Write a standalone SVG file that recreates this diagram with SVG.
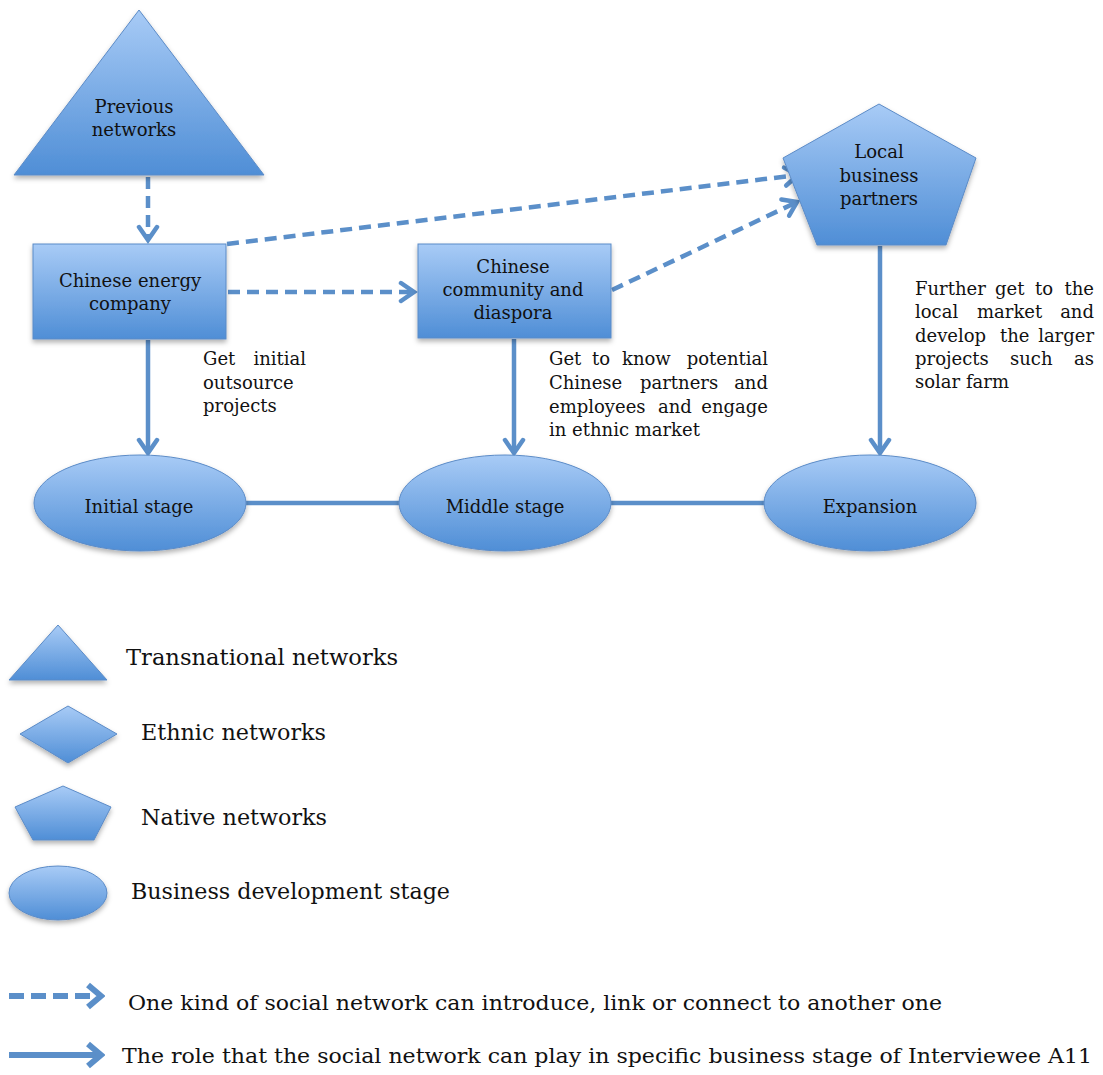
<svg xmlns="http://www.w3.org/2000/svg" width="1103" height="1075" viewBox="0 0 1103 1075">
<style>
  .shape { fill: url(#g); stroke: #5b8bc7; stroke-width: 1; filter: url(#sh); }
  .lbl { font-family: "DejaVu Serif", "Liberation Serif", serif; font-size: 18px; fill: #111; text-anchor: middle; }
  .txt { font-family: "DejaVu Serif", "Liberation Serif", serif; font-size: 18px; fill: #111; }
  .leg { font-family: "DejaVu Serif", "Liberation Serif", serif; font-size: 22.5px; fill: #111; }
  .leg2 { font-family: "DejaVu Serif", "Liberation Serif", serif; font-size: 20.5px; fill: #111; }
  .dash { fill: none; stroke: #5b8fc9; stroke-width: 4.5; stroke-dasharray: 12 7; marker-end: url(#ah); }
  .solid { fill: none; stroke: #5b8fc9; stroke-width: 4.5; marker-end: url(#ah); }
  .line { fill: none; stroke: #5b8fc9; stroke-width: 4.5; }
</style>
<defs>
  <linearGradient id="g" x1="0" y1="0" x2="0" y2="1">
    <stop offset="0" stop-color="#a8cbf6"/>
    <stop offset="1" stop-color="#4f8ed6"/>
  </linearGradient>
  <filter id="sh" x="-20%" y="-20%" width="140%" height="150%">
    <feDropShadow dx="0" dy="3" stdDeviation="2.5" flood-color="#000" flood-opacity="0.3"/>
  </filter>
  <marker id="ah" markerUnits="userSpaceOnUse" viewBox="-18 -12 22 24" refX="0" refY="0" markerWidth="22" markerHeight="24" orient="auto">
    <path d="M-13,-9 L0,0 L-13,9" fill="none" stroke="#5b8fc9" stroke-width="4.5" stroke-linecap="round" stroke-linejoin="miter"/>
  </marker>
  <marker id="ahl" markerUnits="userSpaceOnUse" viewBox="-20 -14 24 28" refX="0" refY="0" markerWidth="24" markerHeight="28" orient="auto">
    <path d="M-13,-11 L0,0 L-13,11" fill="none" stroke="#5b8fc9" stroke-width="6" stroke-linejoin="miter"/>
  </marker>
</defs>
<rect width="1103" height="1075" fill="#ffffff"/>

<g id="connectors">
  <line class="dash" x1="148" y1="177" x2="148" y2="240"/>
  <line class="dash" x1="228" y1="292" x2="414" y2="292"/>
  <line class="dash" x1="227" y1="244" x2="798" y2="175"/>
  <line class="dash" x1="612" y1="290" x2="797" y2="202"/>
  <line class="solid" x1="148" y1="340" x2="148" y2="453"/>
  <line class="solid" x1="514" y1="339" x2="514" y2="453"/>
  <line class="solid" x1="880" y1="246" x2="880" y2="453"/>
  <line class="line" x1="246" y1="503" x2="400" y2="503"/>
  <line class="line" x1="611" y1="503" x2="765" y2="503"/>
</g>

<g id="previous-networks">
  <polygon class="shape" points="139,10 264,175 14,175"/>
  <text class="lbl" x="134" y="113">Previous</text>
  <text class="lbl" x="134" y="136">networks</text>
</g>

<g id="chinese-energy-company">
  <rect class="shape" x="33" y="244" width="193" height="95"/>
  <text class="lbl" x="130" y="287">Chinese energy</text>
  <text class="lbl" x="130" y="310">company</text>
</g>

<g id="chinese-community">
  <rect class="shape" x="418" y="244" width="193" height="94"/>
  <text class="lbl" x="513" y="273">Chinese</text>
  <text class="lbl" x="513" y="296">community and</text>
  <text class="lbl" x="513" y="319">diaspora</text>
</g>

<g id="local-business-partners">
  <polygon class="shape" points="879,104 976,158 946,245 817,245 783,158"/>
  <text class="lbl" x="879" y="158">Local</text>
  <text class="lbl" x="879" y="182">business</text>
  <text class="lbl" x="879" y="205">partners</text>
</g>

<g id="initial-stage">
  <ellipse class="shape" cx="140" cy="503" rx="106" ry="48"/>
  <text class="lbl" x="139" y="513">Initial stage</text>
</g>
<g id="middle-stage">
  <ellipse class="shape" cx="505" cy="503" rx="106" ry="48"/>
  <text class="lbl" x="505" y="513">Middle stage</text>
</g>
<g id="expansion">
  <ellipse class="shape" cx="870" cy="503" rx="106" ry="48"/>
  <text class="lbl" x="870" y="513">Expansion</text>
</g>

<g id="label-initial">
  <text class="txt" y="365"><tspan x="203">Get</tspan><tspan x="306" text-anchor="end">initial</tspan></text>
  <text class="txt" x="203" y="389">outsource</text>
  <text class="txt" x="203" y="412">projects</text>
</g>
<g id="label-middle">
  <text class="txt" y="365"><tspan x="549">Get</tspan><tspan x="592">to</tspan><tspan x="622">know</tspan><tspan x="768" text-anchor="end">potential</tspan></text>
  <text class="txt" y="389"><tspan x="549">Chinese</tspan><tspan x="640">partners</tspan><tspan x="768" text-anchor="end">and</tspan></text>
  <text class="txt" y="413"><tspan x="549">employees</tspan><tspan x="658">and</tspan><tspan x="768" text-anchor="end">engage</tspan></text>
  <text class="txt" x="549" y="436">in ethnic market</text>
</g>
<g id="label-expansion">
  <text class="txt" y="295"><tspan x="915">Further</tspan><tspan x="995">get</tspan><tspan x="1035">to</tspan><tspan x="1094" text-anchor="end">the</tspan></text>
  <text class="txt" y="318"><tspan x="915">local</tspan><tspan x="977">market</tspan><tspan x="1094" text-anchor="end">and</tspan></text>
  <text class="txt" y="342"><tspan x="915">develop</tspan><tspan x="1000">the</tspan><tspan x="1094" text-anchor="end">larger</tspan></text>
  <text class="txt" y="365"><tspan x="915">projects</tspan><tspan x="1010">such</tspan><tspan x="1094" text-anchor="end">as</tspan></text>
  <text class="txt" x="915" y="388">solar farm</text>
</g>

<g id="legend">
  <polygon class="shape" points="58,625 107,680 9,680"/>
  <text class="leg" x="126" y="665" textLength="272" lengthAdjust="spacingAndGlyphs">Transnational networks</text>
  <polygon class="shape" points="68,706 117,734 68,763 20,734"/>
  <text class="leg" x="141" y="740" textLength="185" lengthAdjust="spacingAndGlyphs">Ethnic networks</text>
  <polygon class="shape" points="63,786 111,807 94,840 33,840 15,807"/>
  <text class="leg" x="141" y="825" textLength="186" lengthAdjust="spacingAndGlyphs">Native networks</text>
  <ellipse class="shape" cx="58" cy="893" rx="49" ry="27"/>
  <text class="leg" x="131" y="899" textLength="319" lengthAdjust="spacingAndGlyphs">Business development stage</text>
  <line x1="9" y1="996" x2="101" y2="996" stroke="#5b8fc9" stroke-width="6" stroke-dasharray="15 7" marker-end="url(#ahl)"/>
  <text class="leg2" x="128" y="1010" textLength="814" lengthAdjust="spacingAndGlyphs">One kind of social network can introduce, link or connect to another one</text>
  <line x1="9" y1="1055" x2="101" y2="1055" stroke="#5b8fc9" stroke-width="6" marker-end="url(#ahl)"/>
  <text class="leg2" x="122" y="1063" textLength="970" lengthAdjust="spacingAndGlyphs">The role that the social network can play in specific business stage of Interviewee A11</text>
</g>
</svg>
